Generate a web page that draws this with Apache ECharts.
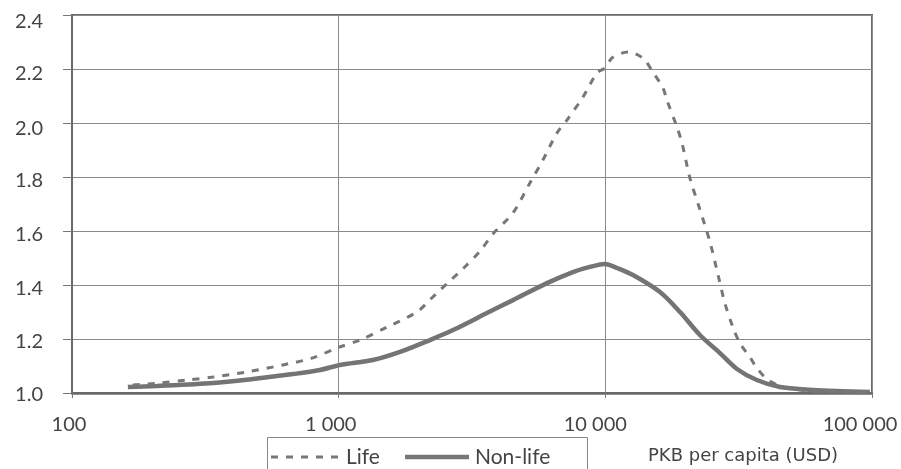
<!DOCTYPE html>
<html>
<head>
<meta charset="utf-8">
<script src="https://cdn.jsdelivr.net/npm/echarts@6/dist/echarts.min.js"></script>
<style>
  html, body { margin: 0; padding: 0; background: #ffffff; }
  #chart { width: 901px; height: 469px; }
</style>
</head>
<body>
<div id="chart"></div>
<script>
// GDP per capita (USD), log scale
const lifeX = [169, 214, 270, 338, 453, 618, 801, 985, 1202, 1518, 1966, 2198, 2394, 2612, 2924, 3388, 3793, 4506, 5214, 5834, 6587, 7179, 8241, 9306, 9970, 10590, 11540, 12370, 13250, 14070, 15070, 16440, 17010, 18560, 19380, 20760, 22620, 24670, 26430, 28070, 30080, 31960, 34840, 36990, 40740, 46350, 53680, 69560, 98200];
const lifeY = [1.030, 1.037, 1.048, 1.059, 1.078, 1.104, 1.130, 1.167, 1.196, 1.244, 1.300, 1.345, 1.380, 1.415, 1.460, 1.525, 1.590, 1.667, 1.778, 1.863, 1.963, 2.011, 2.096, 2.185, 2.204, 2.241, 2.259, 2.263, 2.252, 2.233, 2.189, 2.130, 2.085, 1.985, 1.926, 1.796, 1.680, 1.560, 1.440, 1.333, 1.244, 1.185, 1.133, 1.093, 1.048, 1.022, 1.011, 1.005, 1.003];

const nonLifeX = [162, 208, 338, 477, 674, 851, 1011, 1345, 1698, 2198, 2684, 3597, 4506, 6039, 7562, 8750, 9970, 11070, 12700, 16030, 19060, 22620, 26900, 31160, 36990, 45190, 59980, 98200];
const nonLifeY = [1.022, 1.026, 1.037, 1.052, 1.070, 1.085, 1.104, 1.122, 1.152, 1.196, 1.233, 1.296, 1.344, 1.407, 1.448, 1.467, 1.478, 1.463, 1.437, 1.374, 1.300, 1.215, 1.148, 1.089, 1.048, 1.022, 1.011, 1.004];

const xTicks = [100, 1000, 10000, 100000];
const xTickLabels = ['100', '1 000', '10 000', '100 000'];
const yTickLabels = ['1.0', '1.2', '1.4', '1.6', '1.8', '2.0', '2.2', '2.4'];
const xAxisTitle = 'PKB per capita (USD)';
const seriesNames = ['Life', 'Non-life'];

const pairs = (xs, ys) => xs.map((x, i) => [x, ys[i]]);

const labelFont = 'Lato, "Noto Sans", sans-serif';
const lineColor = '#777777';
const lifeDash = [7, 8];

// x labels sit a little left of their ticks (right padding shifts them left by half)
const xLabelShift = [3, 8, 10, 12];
const xLabelRich = {};
xLabelShift.forEach((s, i) => {
  xLabelRich['x' + i] = { padding: [0, 2 * s, 0, 0], fontSize: 20, color: '#444', fontFamily: labelFont };
});

// y labels sit slightly below their gridlines (top padding shifts them down by half)
const yLabelShift = [1.5, 3, 3.5, 4, 4, 6, 5, 7];
const yLabelRich = {};
yLabelShift.forEach((s, i) => {
  yLabelRich['y' + i] = { padding: [2 * s, 0, 0, 0], fontSize: 20, color: '#444', fontFamily: labelFont };
});

const chart = echarts.init(document.getElementById('chart'), null, { renderer: 'canvas' });

chart.setOption({
  animation: false,
  backgroundColor: '#ffffff',
  grid: {
    left: 72, right: 29, top: 15, bottom: 76,
    containLabel: false,
    outerBoundsMode: 'none',
    show: true, borderColor: '#6a6a6a', borderWidth: 2
  },
  xAxis: {
    type: 'log',
    logBase: 10,
    min: 100,
    max: 100000,
    axisLine: { show: true, lineStyle: { color: '#6a6a6a', width: 2.5 } },
    axisTick: { show: true, length: 5, lineStyle: { color: '#777', width: 1 } },
    splitLine: { show: true, lineStyle: { color: '#8a8a8a', width: 1 } },
    axisLabel: {
      margin: 22,
      fontSize: 20,
      color: '#444',
      fontFamily: labelFont,
      rich: xLabelRich,
      formatter: v => {
        const i = xTicks.findIndex(t => Math.abs(t - v) / t < 1e-6);
        return i >= 0 ? '{x' + i + '|' + xTickLabels[i] + '}' : '';
      }
    }
  },
  yAxis: {
    type: 'value',
    min: 1.0,
    max: 2.4,
    interval: 0.2,
    axisLine: { show: true, lineStyle: { color: '#6a6a6a', width: 2 } },
    axisTick: { show: true, length: 9, lineStyle: { color: '#777', width: 1 } },
    splitLine: { show: true, lineStyle: { color: '#8a8a8a', width: 1 } },
    axisLabel: {
      margin: 29,
      fontSize: 20,
      color: '#444',
      fontFamily: labelFont,
      rich: yLabelRich,
      formatter: v => {
        const i = yTickLabels.indexOf(v.toFixed(1));
        return i >= 0 ? '{y' + i + '|' + yTickLabels[i] + '}' : '';
      }
    }
  },
  graphic: [
    // legend box
    {
      type: 'rect',
      shape: { x: 267.5, y: 437.5, width: 320, height: 40 },
      style: { fill: '#fff', stroke: '#888', lineWidth: 1 },
      z: 10
    },
    {
      type: 'line',
      shape: { x1: 271, y1: 457, x2: 341, y2: 457 },
      style: { stroke: lineColor, lineWidth: 3, lineDash: lifeDash },
      z: 11
    },
    {
      type: 'text',
      x: 346, y: 457,
      style: { text: seriesNames[0], fontSize: 21, fill: '#444', fontFamily: labelFont, verticalAlign: 'middle' },
      z: 11
    },
    {
      type: 'line',
      shape: { x1: 405, y1: 457, x2: 469, y2: 457 },
      style: { stroke: lineColor, lineWidth: 4.5 },
      z: 11
    },
    {
      type: 'text',
      x: 475, y: 457,
      style: { text: seriesNames[1], fontSize: 21, fill: '#444', fontFamily: labelFont, verticalAlign: 'middle' },
      z: 11
    },
    {
      type: 'text',
      x: 648, y: 447,
      style: {
        text: xAxisTitle,
        fontSize: 18,
        fill: '#444',
        fontFamily: '"DejaVu Sans", sans-serif'
      }
    }
  ],
  series: [
    {
      name: seriesNames[0],
      type: 'line',
      data: pairs(lifeX, lifeY),
      smooth: 0.3,
      showSymbol: false,
      symbol: 'none',
      lineStyle: { color: lineColor, width: 3, type: lifeDash },
      z: 3
    },
    {
      name: seriesNames[1],
      type: 'line',
      data: pairs(nonLifeX, nonLifeY),
      smooth: 0.3,
      showSymbol: false,
      symbol: 'none',
      lineStyle: { color: '#747474', width: 4.5 },
      z: 2
    }
  ]
});
</script>
</body>
</html>
